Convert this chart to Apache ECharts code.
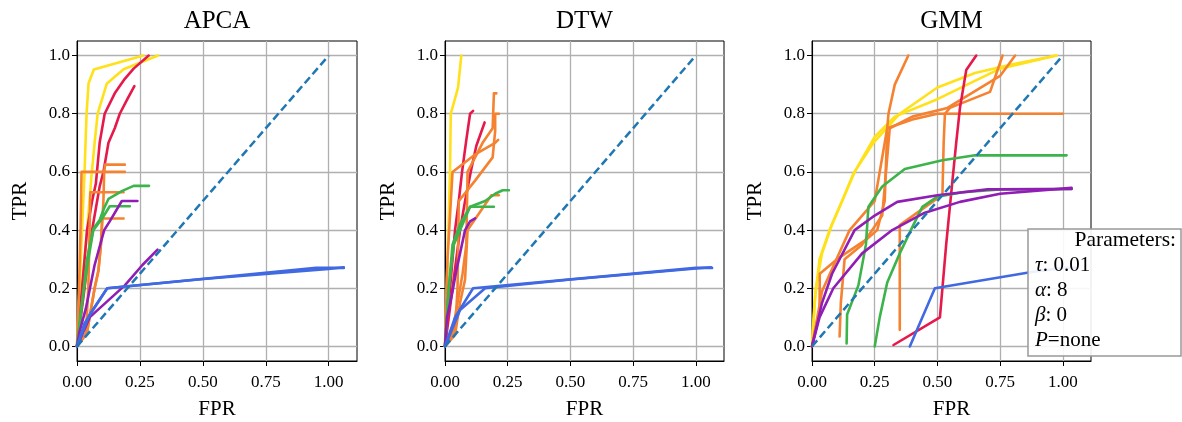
<!DOCTYPE html>
<html>
<head>
<meta charset="utf-8">
<script src="https://cdn.jsdelivr.net/npm/echarts@6/dist/echarts.min.js"></script>
<style>
  html, body { margin: 0; padding: 0; background: #fff; }
  #chart { width: 1182px; height: 422px; }
</style>
</head>
<body>
<div id="chart"></div>
<script>
// ---- data ----
const panelTitles = ['APCA', 'DTW', 'GMM'];
const tickX = [0, 0.25, 0.5, 0.75, 1.0];
const tickY = [0, 0.2, 0.4, 0.6, 0.8, 1.0];
const chanceLine = [[0, 0], [1, 1]];

const palette = {
  yellow: '#ffe119', red: '#e6194b', orange: '#f58231', green: '#3cb44b',
  purple: '#911eb4', blue: '#4169e1', chance: '#1f77b4'
};

const apcaCurves = [
  ['yellow', [[0,0],[0.015,0.3],[0.03,0.6],[0.038,0.8],[0.046,0.905],[0.067,0.952],[0.264,1.0]]],
  ['yellow', [[0,0],[0.03,0.3],[0.045,0.45],[0.057,0.58],[0.07,0.7],[0.082,0.8],[0.118,0.903],[0.185,0.953],[0.322,1.0]]],
  ['red', [[0,0],[0.02,0.2],[0.04,0.4],[0.06,0.5],[0.075,0.56],[0.09,0.7],[0.11,0.8],[0.15,0.87],[0.19,0.92],[0.225,0.955],[0.285,1.0]]],
  ['red', [[0,0],[0.03,0.2],[0.05,0.35],[0.07,0.45],[0.09,0.55],[0.105,0.6],[0.125,0.7],[0.15,0.75],[0.17,0.8],[0.2,0.85],[0.228,0.895]]],
  ['orange', [[0,0],[0.008,0.2],[0.014,0.4],[0.018,0.6],[0.19,0.6]]],
  ['orange', [[0,0],[0.035,0.04],[0.045,0.2],[0.05,0.4],[0.053,0.53],[0.185,0.53]]],
  ['orange', [[0,0],[0.04,0.05],[0.07,0.2],[0.085,0.26],[0.095,0.35],[0.105,0.5],[0.108,0.6],[0.112,0.625],[0.19,0.625]]],
  ['orange', [[0,0],[0.04,0.05],[0.07,0.2],[0.085,0.26],[0.095,0.35],[0.1,0.44],[0.185,0.44]]],
  ['green', [[0,0],[0.02,0.15],[0.04,0.3],[0.065,0.405],[0.09,0.435],[0.11,0.48],[0.125,0.507],[0.18,0.535],[0.225,0.552],[0.286,0.552]]],
  ['green', [[0,0],[0.02,0.15],[0.045,0.3],[0.065,0.4],[0.1,0.44],[0.13,0.482],[0.21,0.482]]],
  ['purple', [[0,0],[0.01,0.05],[0.035,0.13],[0.07,0.28],[0.108,0.4],[0.13,0.43],[0.178,0.5],[0.24,0.5]]],
  ['purple', [[0,0],[0.05,0.1],[0.12,0.155],[0.19,0.21],[0.26,0.28],[0.32,0.333]]],
  ['blue', [[0,0],[0.05,0.11],[0.12,0.2],[0.95,0.27],[1.06,0.27]]],
  ['blue', [[0,0],[0.03,0.08],[0.12,0.2],[0.5,0.232],[1.0,0.266],[1.06,0.272]]]
];

const dtwCurves = [
  ['yellow', [[0,0],[0.01,0.3],[0.02,0.6],[0.023,0.8],[0.036,0.84],[0.052,0.89],[0.065,1.0]]],
  ['red', [[0,0],[0.02,0.2],[0.04,0.4],[0.055,0.5],[0.068,0.6],[0.085,0.71],[0.1,0.8],[0.112,0.81]]],
  ['red', [[0,0],[0.03,0.2],[0.06,0.4],[0.08,0.5],[0.105,0.61],[0.125,0.69],[0.158,0.77]]],
  ['orange', [[0,0],[0.01,0.3],[0.03,0.6],[0.12,0.66],[0.2,0.7],[0.212,0.71]]],
  ['orange', [[0,0],[0.04,0.05],[0.05,0.2],[0.055,0.5],[0.12,0.57],[0.19,0.65],[0.2,0.74],[0.2,0.8],[0.215,0.8]]],
  ['orange', [[0,0],[0.03,0.05],[0.07,0.25],[0.085,0.35],[0.09,0.6],[0.15,0.7],[0.19,0.75],[0.195,0.87],[0.205,0.87]]],
  ['orange', [[0,0],[0.04,0.04],[0.06,0.15],[0.08,0.23],[0.09,0.4],[0.13,0.45],[0.185,0.52],[0.215,0.52]]],
  ['green', [[0,0],[0.015,0.2],[0.03,0.35],[0.06,0.42],[0.1,0.48],[0.16,0.5],[0.2,0.525],[0.23,0.537],[0.255,0.537]]],
  ['green', [[0,0],[0.015,0.2],[0.035,0.35],[0.07,0.42],[0.1,0.48],[0.195,0.48]]],
  ['purple', [[0,0],[0.008,0.1],[0.028,0.18],[0.045,0.26],[0.06,0.32],[0.08,0.4],[0.1,0.43],[0.12,0.44]]],
  ['blue', [[0,0],[0.04,0.1],[0.112,0.2],[1.0,0.27],[1.065,0.27]]],
  ['blue', [[0,0],[0.06,0.125],[0.16,0.2],[0.5,0.23],[1.0,0.268],[1.06,0.272]]]
];

const gmmCurves = [
  ['yellow', [[0,0],[0.01,0.15],[0.03,0.3],[0.07,0.4],[0.12,0.5],[0.165,0.594],[0.245,0.7],[0.35,0.8],[0.5,0.89],[0.65,0.94],[0.8,0.97],[0.975,1.0]]],
  ['yellow', [[0,0],[0.015,0.2],[0.04,0.32],[0.08,0.42],[0.17,0.6],[0.25,0.72],[0.33,0.79],[0.5,0.85],[0.75,0.955],[0.975,1.0]]],
  ['orange', [[0,0],[0.03,0.126],[0.031,0.25],[0.1,0.3],[0.22,0.37],[0.26,0.4],[0.29,0.5],[0.3,0.75],[0.305,0.8],[0.33,0.9],[0.384,1.0]]],
  ['orange', [[0,0],[0.04,0.19],[0.15,0.4],[0.2,0.45],[0.25,0.5],[0.3,0.75],[0.4,0.78],[0.5,0.8],[1.0,0.8]]],
  ['orange', [[0.11,0.034],[0.115,0.15],[0.13,0.3],[0.2,0.35],[0.28,0.45],[0.31,0.75],[0.4,0.79],[0.54,0.82],[0.75,0.93],[0.81,1.0]]],
  ['orange', [[0.35,0.057],[0.35,0.417],[0.42,0.46],[0.49,0.503],[0.52,0.52],[0.525,0.7],[0.53,0.8],[0.55,0.82],[0.71,0.875],[0.76,1.0]]],
  ['red', [[0.325,0.005],[0.51,0.1],[0.52,0.2],[0.535,0.35],[0.56,0.57],[0.575,0.7],[0.59,0.82],[0.615,0.95],[0.655,1.0]]],
  ['green', [[0.138,0.01],[0.14,0.11],[0.185,0.21],[0.215,0.35],[0.225,0.48],[0.28,0.55],[0.37,0.61],[0.52,0.64],[0.65,0.657],[1.015,0.657]]],
  ['green', [[0.25,0.0],[0.27,0.1],[0.3,0.22],[0.35,0.32],[0.4,0.41],[0.44,0.48],[0.5,0.515],[0.6,0.53],[0.75,0.54],[1.035,0.541]]],
  ['purple', [[0,0],[0.04,0.15],[0.08,0.25],[0.17,0.4],[0.25,0.45],[0.34,0.497],[0.5,0.52],[0.7,0.54],[1.035,0.541]]],
  ['purple', [[0,0],[0.03,0.1],[0.085,0.2],[0.2,0.32],[0.32,0.4],[0.45,0.46],[0.59,0.497],[0.75,0.525],[1.035,0.545]]],
  ['blue', [[0.39,0],[0.49,0.2],[0.87,0.255],[1.0,0.27],[1.05,0.27]]]
];

const panelCurves = [apcaCurves, dtwCurves, gmmCurves];
const paramLines = ['{i|τ}: 0.01', '{i|α}: 8', '{i|β}: 0', '{i|P}=none'];

// ---- layout ----
const FONT = "'Liberation Serif', 'DejaVu Serif', serif";
const gridLefts = [77, 445, 812];
const gridWidths = [280, 279, 279];
const gridTop = 41, gridHeight = 320;

const chart = echarts.init(document.getElementById('chart'));

const grids = [], xAxes = [], yAxes = [], series = [], graphics = [];

panelTitles.forEach((title, p) => {
  grids.push({
    left: gridLefts[p], top: gridTop, width: gridWidths[p], height: gridHeight,
    show: true, borderColor: '#000', borderWidth: 1, containLabel: false
  });
  xAxes.push({
    type: 'value', gridIndex: p, min: 0, max: 1.1125, interval: 0.25,
    axisLine: { show: true, onZero: false, lineStyle: { color: '#000', width: 1 } },
    axisTick: { show: true, length: 5, customValues: tickX, lineStyle: { color: '#000' } },
    axisLabel: { customValues: tickX, formatter: v => v.toFixed(2), color: '#000',
      fontFamily: FONT, fontSize: 17, margin: 13 },
    splitLine: { show: true, lineStyle: { color: '#b0b0b0', width: 1.3 } }
  });
  yAxes.push({
    type: 'value', gridIndex: p, min: -0.05, max: 1.05,
    axisLine: { show: true, onZero: false, lineStyle: { color: '#000', width: 1 } },
    axisTick: { show: true, length: 5, customValues: tickY, lineStyle: { color: '#000' } },
    axisLabel: { customValues: tickY, formatter: v => v.toFixed(1), color: '#000',
      fontFamily: FONT, fontSize: 17, margin: 7 },
    splitLine: { show: true, lineStyle: { color: '#b0b0b0', width: 1.3 } }
  });

  panelCurves[p].forEach(([col, pts]) => {
    series.push({
      type: 'line', xAxisIndex: p, yAxisIndex: p, data: pts,
      showSymbol: false, symbol: 'none', silent: true,
      lineStyle: { color: palette[col], width: 2.6, cap: 'round', join: 'round' },
      itemStyle: { color: palette[col] }, z: 3
    });
  });
  series.push({
    type: 'line', xAxisIndex: p, yAxisIndex: p, data: chanceLine,
    showSymbol: false, symbol: 'none', silent: true,
    lineStyle: { color: palette.chance, width: 2.5, type: [8, 4] }, z: 4
  });

  const cx = gridLefts[p] + gridWidths[p] / 2;
  graphics.push({ type: 'text', x: cx, y: 21, style: {
    text: title, fill: '#000', font: `25px ${FONT}`, align: 'center', verticalAlign: 'middle' } });
  graphics.push({ type: 'text', x: cx, y: 409, style: {
    text: 'FPR', fill: '#000', font: `21px ${FONT}`, align: 'center', verticalAlign: 'middle' } });
  graphics.push({ type: 'text', x: gridLefts[p] - 57, y: gridTop + gridHeight / 2, rotation: Math.PI / 2,
    style: { text: 'TPR', fill: '#000', font: `21px ${FONT}`, align: 'center', verticalAlign: 'middle' } });
});

// parameters box
graphics.push({
  type: 'rect', x: 1028, y: 229, z: 100,
  shape: { width: 153, height: 127 },
  style: { fill: 'rgba(255,255,255,0.9)', stroke: '#999', lineWidth: 1.5 }
});
graphics.push({ type: 'text', x: 1176, y: 240, z: 101, style: {
  text: 'Parameters:', fill: '#000', font: `21.5px ${FONT}`, align: 'right', verticalAlign: 'middle' } });
paramLines.forEach((t, i) => {
  graphics.push({ type: 'text', x: 1035, y: 265 + i * 25.1, z: 101, style: {
    text: t, fill: '#000', font: `21px ${FONT}`, align: 'left', verticalAlign: 'middle',
    rich: { i: { fontStyle: 'italic', fontFamily: FONT, fontSize: 21 } } } });
});

chart.setOption({
  animation: false,
  backgroundColor: '#fff',
  grid: grids,
  xAxis: xAxes,
  yAxis: yAxes,
  series: series,
  graphic: graphics
});
</script>
</body>
</html>
